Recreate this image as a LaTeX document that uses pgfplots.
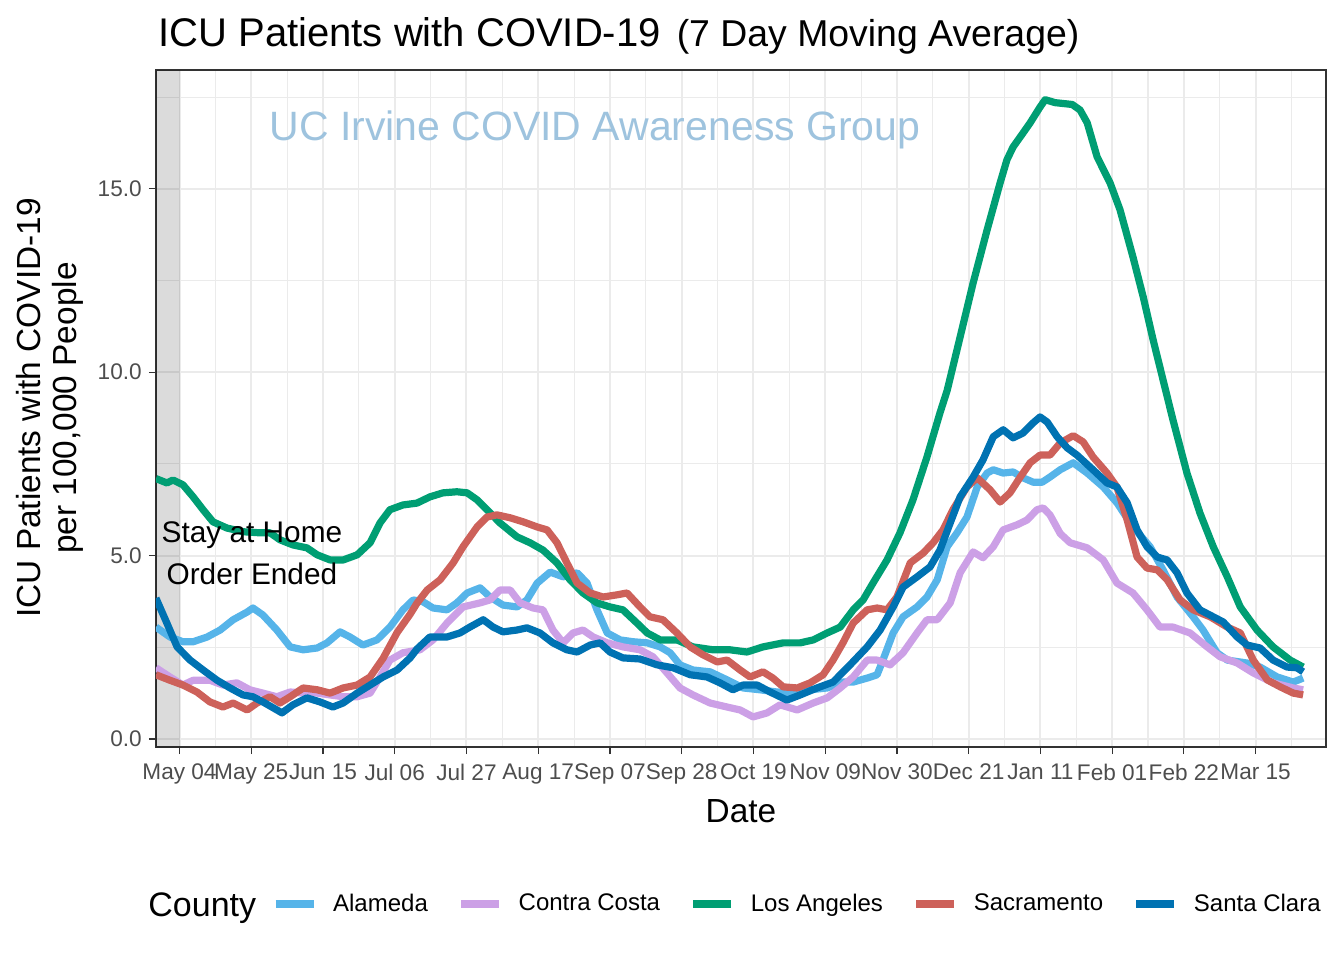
\documentclass[border=0pt]{standalone}
\usepackage{fontspec}
\setmainfont{Liberation Sans}
\usepackage{pgfplots}
\pgfplotsset{compat=1.18}
\definecolor{cAla}{HTML}{56B4E9}
\definecolor{cCC}{RGB}{204,160,230}
\definecolor{cLA}{HTML}{009E73}
\definecolor{cSac}{RGB}{205,97,90}
\definecolor{cSC}{HTML}{0072B2}
\definecolor{gridc}{RGB}{235,235,235}
\definecolor{tickc}{RGB}{77,77,77}
\definecolor{wm}{RGB}{158,195,222}
\begin{document}
\begin{tikzpicture}
\begin{axis}[
  scale only axis, width=585pt, height=338.5pt,
  xmin=-6.88, xmax=335.6, ymin=-0.22, ymax=18.24,
  axis line style={draw=black!80, line width=0.6pt},
  xtick={0,21,...,315},
  xticklabels={May 04,May 25,Jun 15,Jul 06,Jul 27,Aug 17,Sep 07,Sep 28,Oct 19,Nov 09,Nov 30,Dec 21,Jan 11,Feb 01,Feb 22,Mar 15},
  minor xtick={10.5,31.5,...,325.5},
  ytick={0,5,10,15},
  yticklabels={0.0,5.0,10.0,15.0},
  minor ytick={2.5,7.5,12.5,17.5},
  grid=both,
  major grid style={draw=gridc, line width=1pt},
  minor grid style={draw=gridc, line width=0.55pt},
  tick align=outside,
  major tick length=3.6pt, minor tick length=0pt,
  tick style={draw=black!80, line width=0.6pt},
  xtick pos=bottom, ytick pos=left,
  ticklabel style={font=\fontsize{11.3}{13}\selectfont, text=tickc},
  xticklabel style={yshift=-1.2pt},
  every axis plot/.append style={line width=3.6pt, line join=round, no markers},
  legend columns=5,
  legend style={at={(0.0991,-0.2319)}, anchor=west, draw=none, fill=none,
    inner sep=0pt, outer sep=0pt, font=\fontsize{12}{14}\selectfont,
    nodes={inner sep=0pt},
    /tikz/every odd column/.append style={column sep=8pt},
    /tikz/every even column/.append style={column sep=14.8pt}},
  legend cell align=left,
  legend image code/.code={\draw[#1, line cap=butt] (0pt,0pt) -- (19pt,0pt);},
]
\fill[black, opacity=0.14] (axis cs:-10,-1) rectangle (axis cs:0,20);
\node[text=wm, font=\fontsize{20.5}{24}\selectfont] at (axis cs:121.6,16.6) {UC Irvine COVID Awareness Group};

% Alameda
\addplot[cAla] table {
-6.9 3.05
-2.8 2.78
1.0 2.65
4.0 2.65
8.1 2.78
11.9 2.97
15.7 3.25
19.8 3.46
21.5 3.57
24.4 3.38
28.5 2.97
32.4 2.51
36.2 2.43
40.3 2.48
43.2 2.62
47.0 2.92
49.9 2.78
53.7 2.56
57.8 2.70
61.6 3.05
65.4 3.52
68.4 3.79
71.3 3.74
74.2 3.57
78.3 3.52
81.2 3.71
84.2 3.98
88.0 4.12
90.9 3.87
94.7 3.65
98.8 3.60
101.7 3.79
104.7 4.25
108.5 4.55
112.3 4.42
116.4 4.53
119.3 4.25
122.2 3.52
125.2 2.89
129.0 2.70
132.8 2.65
136.9 2.62
140.7 2.51
143.6 2.35
146.5 2.02
150.3 1.88
155.3 1.83
160.3 1.61
165.0 1.39
169.9 1.34
174.9 1.28
179.6 1.25
184.6 1.34
189.6 1.39
194.2 1.55
197.2 1.55
201.3 1.66
204.2 1.75
205.9 2.15
208.9 2.89
211.8 3.33
215.9 3.60
218.8 3.87
221.8 4.34
224.7 5.24
227.6 5.62
230.5 6.05
233.5 6.87
236.4 7.25
238.2 7.34
241.1 7.25
244.0 7.28
246.9 7.12
249.9 7.00
252.5 7.00
254.8 7.14
257.8 7.34
261.6 7.53
265.7 7.25
270.4 6.87
274.4 6.44
279.1 5.78
284.1 5.24
287.9 4.61
292.0 3.87
296.7 3.33
299.6 2.97
303.7 2.35
306.7 2.15
312.5 2.07
316.3 1.96
321.3 1.69
326.0 1.55
328.9 1.66
};
\addlegendentry{Alameda}

% Contra Costa
\addplot[cCC] table {
-6.9 1.94
-2.8 1.69
1.0 1.47
4.0 1.60
8.9 1.60
12.7 1.47
16.8 1.53
20.6 1.34
24.4 1.25
28.5 1.15
32.4 1.28
36.2 1.25
40.3 1.25
44.1 1.20
47.9 1.15
52.0 1.15
55.8 1.25
58.7 1.69
61.6 2.15
65.4 2.35
70.4 2.43
74.2 2.70
78.3 3.16
83.0 3.60
88.0 3.71
90.9 3.79
93.8 4.06
96.8 4.06
99.7 3.71
103.5 3.57
106.4 3.52
109.3 2.97
112.3 2.62
115.2 2.89
118.1 2.97
121.1 2.78
125.2 2.62
129.8 2.51
134.8 2.43
138.6 2.24
142.7 1.80
146.5 1.39
150.3 1.20
155.3 0.98
160.3 0.87
164.1 0.79
167.9 0.60
172.0 0.71
175.8 0.93
180.8 0.79
185.5 0.98
189.6 1.12
193.4 1.39
197.2 1.69
201.3 2.15
204.2 2.15
208.0 2.02
211.8 2.35
215.9 2.89
218.8 3.25
221.8 3.25
225.6 3.71
228.5 4.53
232.3 5.10
235.2 4.94
238.2 5.24
241.1 5.70
245.2 5.84
248.1 5.97
251.0 6.25
252.8 6.30
254.8 6.11
257.8 5.60
260.7 5.35
265.7 5.21
270.4 4.88
274.4 4.25
279.1 3.98
283.2 3.52
287.0 3.05
290.8 3.05
295.8 2.89
300.8 2.51
304.6 2.24
309.6 2.07
314.3 1.80
320.1 1.53
326.0 1.39
328.9 1.34
};
\addlegendentry{Contra Costa}

% Los Angeles
\addplot[cLA] table {
-6.9 7.10
-3.7 6.98
-1.9 7.06
1.0 6.93
4.0 6.60
6.9 6.25
9.8 5.92
13.9 5.75
18.6 5.65
23.6 5.62
26.5 5.62
29.4 5.43
33.2 5.29
37.3 5.21
40.3 5.02
44.1 4.88
47.9 4.88
52.0 5.02
55.8 5.35
58.7 5.89
61.6 6.25
65.4 6.38
69.5 6.43
73.3 6.60
77.1 6.71
81.2 6.74
84.2 6.71
87.1 6.52
90.0 6.25
93.8 5.89
98.8 5.51
102.6 5.35
106.4 5.15
110.5 4.80
114.3 4.34
118.1 3.98
122.2 3.71
126.0 3.60
129.8 3.52
133.9 3.16
136.9 2.89
140.7 2.70
145.6 2.70
150.3 2.51
156.2 2.43
161.2 2.43
166.1 2.37
170.8 2.51
176.7 2.62
181.7 2.62
185.5 2.70
189.6 2.89
193.4 3.05
197.2 3.52
200.1 3.79
203.0 4.25
207.1 4.88
210.9 5.62
214.7 6.52
218.8 7.69
222.6 8.89
224.7 9.50
228.5 10.96
232.3 12.43
236.4 13.88
240.2 15.16
242.2 15.79
244.0 16.14
246.9 16.52
249.0 16.80
251.9 17.23
253.4 17.43
256.3 17.35
261.3 17.30
263.6 17.15
265.7 16.80
268.6 15.87
272.4 15.16
275.3 14.43
279.1 13.14
282.1 12.05
285.0 10.88
287.9 9.79
290.8 8.70
294.9 7.25
298.7 6.16
302.6 5.24
306.7 4.42
310.5 3.60
315.4 2.97
320.1 2.51
325.1 2.15
328.9 1.96
};
\addlegendentry{Los Angeles}

% Sacramento
\addplot[cSac] table {
-6.9 1.75
-2.8 1.60
1.0 1.47
5.1 1.28
8.9 1.01
12.7 0.87
15.7 0.98
19.8 0.79
22.7 0.98
26.5 1.15
29.4 0.98
32.4 1.15
36.2 1.39
40.3 1.34
44.1 1.25
47.9 1.39
52.0 1.47
55.8 1.69
59.6 2.20
63.7 2.90
67.5 3.40
69.5 3.70
72.5 4.06
76.3 4.34
80.1 4.80
83.0 5.24
87.1 5.78
90.0 6.05
92.9 6.11
96.8 6.03
100.6 5.92
104.7 5.78
107.6 5.70
110.5 5.35
113.4 4.80
116.4 4.25
120.2 3.98
124.0 3.87
128.1 3.93
131.0 3.98
134.8 3.60
137.7 3.33
141.5 3.25
145.6 2.89
149.5 2.51
153.3 2.29
157.4 2.10
160.3 2.15
164.1 1.88
167.0 1.69
170.8 1.83
173.7 1.66
176.7 1.42
180.8 1.39
184.6 1.53
188.4 1.75
191.3 2.15
194.2 2.62
197.2 3.16
201.3 3.52
204.2 3.57
207.1 3.52
210.0 3.87
213.9 4.80
217.7 5.07
220.6 5.35
223.5 5.70
226.4 6.25
230.5 6.87
233.5 7.12
237.3 6.79
240.2 6.46
243.1 6.71
246.1 7.14
249.0 7.53
251.9 7.74
254.8 7.74
257.8 8.07
261.6 8.27
264.5 8.10
267.4 7.69
271.5 7.25
274.4 6.87
277.4 5.97
280.3 4.96
283.2 4.66
286.2 4.61
289.1 4.34
292.9 3.79
296.7 3.52
301.7 3.33
306.7 3.05
310.5 2.89
314.3 2.15
318.4 1.61
322.2 1.42
326.0 1.25
328.9 1.20
};
\addlegendentry{Sacramento}

% Santa Clara
\addplot[cSC] table {
-6.9 3.84
-3.7 3.16
-0.7 2.51
3.1 2.15
6.9 1.88
11.0 1.60
14.8 1.39
18.6 1.20
21.5 1.15
24.4 1.01
27.4 0.85
30.0 0.71
33.2 0.93
37.3 1.12
41.1 1.01
44.9 0.87
47.9 0.98
52.0 1.25
55.8 1.47
59.6 1.69
63.7 1.88
67.5 2.21
69.5 2.45
73.3 2.78
78.3 2.78
82.1 2.89
85.0 3.05
88.9 3.25
91.8 3.05
94.7 2.92
98.8 2.97
101.7 3.03
105.5 2.89
109.3 2.62
113.4 2.43
116.4 2.37
120.2 2.56
123.1 2.62
126.0 2.37
129.8 2.21
134.8 2.18
139.8 2.02
144.5 1.94
149.5 1.75
154.4 1.69
158.2 1.53
162.0 1.34
165.0 1.47
169.1 1.47
172.9 1.28
177.8 1.06
181.7 1.20
186.6 1.39
191.3 1.55
196.3 2.02
201.3 2.51
205.1 2.97
208.9 3.60
211.8 4.14
215.9 4.42
219.7 4.69
222.6 5.15
225.6 5.89
228.5 6.60
232.3 7.14
235.2 7.61
238.2 8.24
241.1 8.43
244.0 8.21
246.9 8.34
249.9 8.62
251.9 8.78
254.0 8.64
256.9 8.24
259.8 7.94
262.7 7.74
267.4 7.34
271.5 6.98
274.4 6.87
277.4 6.44
280.3 5.70
283.2 5.24
286.2 4.96
289.1 4.88
292.0 4.53
294.9 3.98
298.7 3.52
302.6 3.33
305.5 3.19
309.6 2.78
312.5 2.56
316.3 2.48
320.1 2.15
324.2 1.96
327.1 1.94
328.9 1.83
};
\addlegendentry{Santa Clara}

\node[align=center, font=\fontsize{14.9}{21}\selectfont] at (axis cs:21.2,5.07) {Stay at Home\\Order Ended};
\end{axis}
\node[anchor=base west, inner sep=0pt] at (1pt,350pt) {\fontsize{20}{24}\selectfont ICU Patients with COVID-19\hspace{8pt}\fontsize{18.7}{24}\selectfont(7 Day Moving Average)};
\node[rotate=90, align=center, font=\fontsize{16.7}{18}\selectfont] at (-53pt,169.5pt) {ICU Patients with COVID-19\\per 100,000 People};
\node[anchor=base, inner sep=0pt, font=\fontsize{16.7}{20}\selectfont] at (292.5pt,-37.5pt) {Date};
\node[anchor=base west, inner sep=0pt, font=\fontsize{17}{20}\selectfont] at (-4pt,-84.5pt) {County};
\pgfresetboundingbox
\path[use as bounding box] (-78pt,-106.5pt) rectangle (594pt,373.5pt);
\end{tikzpicture}
\end{document}
